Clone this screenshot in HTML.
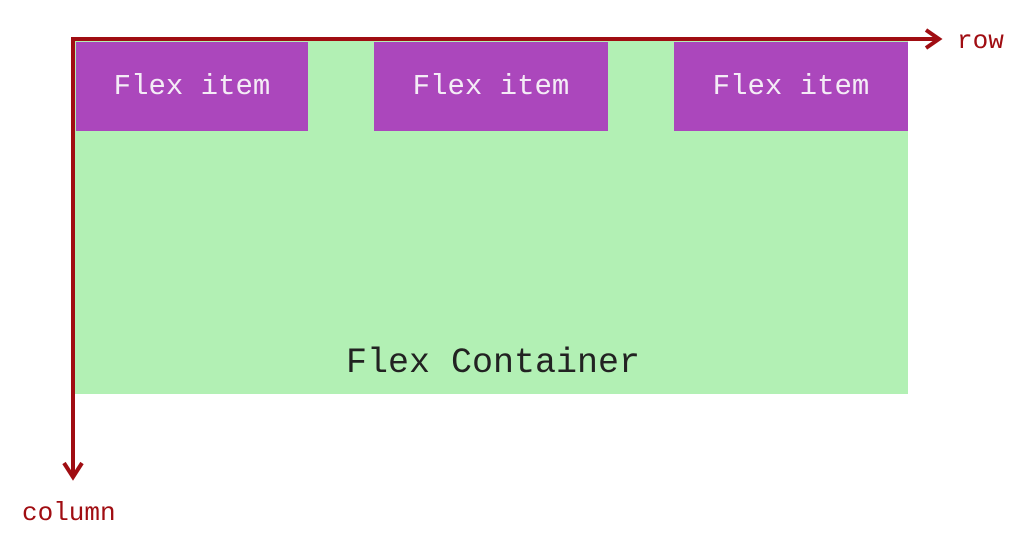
<!DOCTYPE html>
<html><head><meta charset="utf-8"><style>
html,body{margin:0;padding:0;background:#fff;width:1030px;height:542px;overflow:hidden;position:relative;font-family:"Liberation Mono",monospace}
.c{position:absolute;left:75px;top:40px;width:833px;height:354px;background:#b2f0b4}
.i{position:absolute;top:42px;height:89px;background:#ab47bc;color:#f4ecf6;font-size:29px;display:flex;align-items:center;justify-content:center}
.t{position:absolute;color:#222;font-size:35px;left:346px;top:343px}
.l{position:absolute;color:#a00d12;font-size:26px}
</style></head><body>
<div class="c"></div>
<div class="i" style="left:76px;width:232px">Flex item</div>
<div class="i" style="left:374px;width:234px">Flex item</div>
<div class="i" style="left:674px;width:234px">Flex item</div>
<div class="t">Flex Container</div>
<svg width="1030" height="542" style="position:absolute;left:0;top:0">
<g stroke="#a00d12" stroke-width="4" fill="none">
<line x1="73" y1="39" x2="938" y2="39"/>
<polyline points="926,30 939,39 926,48"/>
<line x1="73" y1="37" x2="73" y2="476"/>
<polyline points="64,463 73,477 82,463"/>
</g></svg>
<div class="l" style="left:957px;top:26px">row</div>
<div class="l" style="left:22px;top:498px">column</div>
</body></html>
